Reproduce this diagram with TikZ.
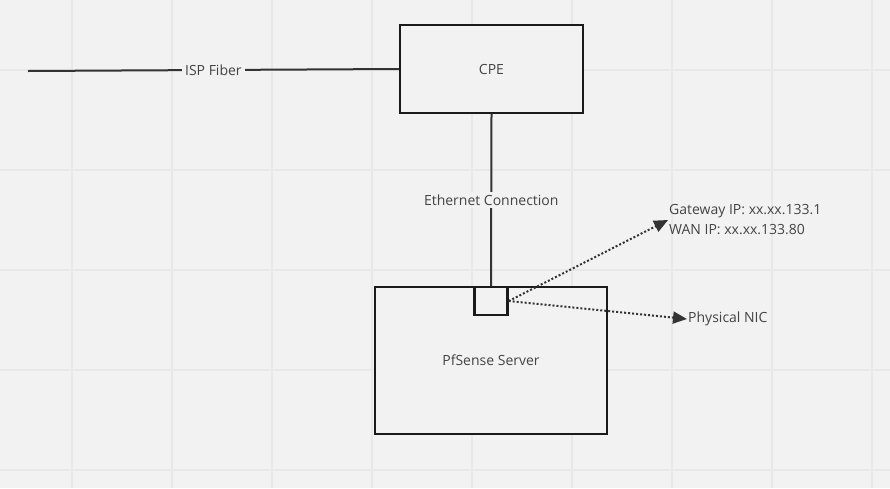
\documentclass[tikz,border=0pt]{standalone}
\usepackage{fontspec}
\setmainfont{Open Sans}
\usetikzlibrary{positioning, arrows.meta}
\definecolor{boardbg}{RGB}{242, 242, 242}
\definecolor{gridline}{RGB}{232, 232, 232}
\definecolor{inkline}{RGB}{51, 51, 51}
\definecolor{boxline}{RGB}{26, 26, 26}
\definecolor{labeltext}{RGB}{68, 68, 68}

\tikzset{
    devbox/.style={draw=boxline, line width=2.4pt, fill=boardbg,
        inner sep=0pt, font=\fontsize{14}{17}\selectfont, text=labeltext},
    linklabel/.style={fill=boardbg, inner sep=3pt,
        font=\fontsize{14}{17}\selectfont, text=labeltext},
    notelabel/.style={anchor=west, inner sep=1pt, align=left,
        font=\fontsize{14}{20}\selectfont, text=labeltext},
    cable/.style={draw=inkline, line width=2pt},
    dotlink/.style={draw=inkline, line width=2pt,
        dash pattern=on 2pt off 2pt, -{Triangle[length=14pt, width=12pt]}}
}

\begin{document}
\begin{tikzpicture}[x=1pt, y=-1pt]
    % board and grid
    \fill[boardbg] (0, 0) rectangle (890, 488);
    \useasboundingbox (0, 0) rectangle (890, 488);
    \foreach \gx in {72, 172, ..., 872}
        \draw[gridline, line width=2pt] (\gx, 0) -- (\gx, 488);
    \foreach \gy in {69.5, 169.5, ..., 469.5}
        \draw[gridline, line width=2pt] (0, \gy) -- (890, \gy);

    % devices
    \node[devbox, minimum width=183pt, minimum height=88pt]
        (cpe) at (491.5, 69) {CPE};
    \node[devbox, minimum width=232pt, minimum height=147pt,
          text depth=0pt] (pfsense) at (491, 360.5) {PfSense Server};
    \node[devbox, minimum width=33pt, minimum height=28pt, anchor=north]
        (nic) at (pfsense.north) {};

    % notes
    \node[notelabel] (wanips) at (668, 220)
        {Gateway IP: xx.xx.133.1\\WAN IP: xx.xx.133.80};
    \node[notelabel] (physnic) at (687, 319) {Physical NIC};

    % links
    \coordinate (fiberend) at (28, 71);
    \draw[cable] (fiberend) -- (cpe.west)
        node[linklabel, midway] (fiberlbl) {ISP Fiber};
    \draw[cable] (cpe.south) -- (nic.north)
        node[linklabel, midway] (ethlbl) {Ethernet Connection};
    \draw[dotlink] (nic.east) -- (wanips.west);
    \draw[dotlink] (nic.east) -- (physnic.west);
\end{tikzpicture}
\end{document}
